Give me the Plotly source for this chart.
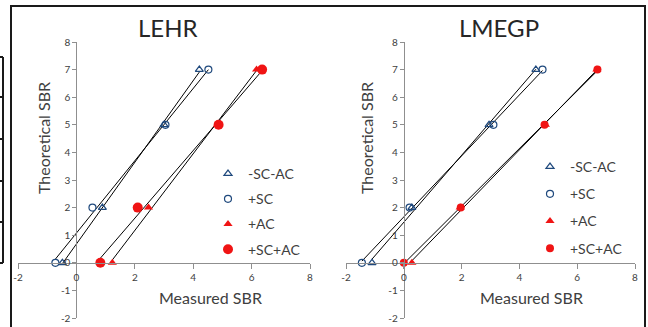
import numpy as np
import plotly.graph_objects as go

W, H = 648, 327

# ---------------- data ----------------
theoretical = [0, 2, 5, 7]
series_names = ["-SC-AC", "+SC", "+AC", "+SC+AC"]

lehr_scac = [-0.48, 0.89, 3.00, 4.21]
lehr_sc = [-0.72, 0.55, 3.05, 4.52]
lehr_ac = [1.23, 2.47, 4.83, 6.17]
lehr_sc_ac = [0.82, 2.10, 4.87, 6.36]

lmegp_scac = [-1.10, 0.28, 2.95, 4.57]
lmegp_sc = [-1.45, 0.20, 3.10, 4.80]
lmegp_ac = [0.28, 1.95, 4.90, 6.68]
lmegp_sc_ac = [0.00, 1.97, 4.87, 6.70]

x_ticks = [-2, 0, 2, 4, 6, 8]
y_ticks = [-2, -1, 0, 1, 2, 3, 4, 5, 6, 7, 8]
panel_titles = ["LEHR", "LMEGP"]
x_title = "Measured SBR"
y_title = "Theoretical SBR"

# ---------------- styles ----------------
BLUE = "#1F497D"
RED = "#F01414"
AXIS = "#8F8F8F"
TXT = "#404040"
FONT = "Lato"

styles = [
    dict(symbol="triangle-up-open", color=BLUE, size=7, line=dict(color=BLUE, width=1.2)),
    dict(symbol="circle-open", color=BLUE, size=7, line=dict(color=BLUE, width=1.2)),
    dict(symbol="triangle-up", color=RED, size=8, line=dict(color=RED, width=0)),
    dict(symbol="circle", color=RED, size=10, line=dict(color=RED, width=0)),
]
styles2 = [dict(s) for s in styles]
styles2[3] = dict(symbol="circle", color=RED, size=8, line=dict(color=RED, width=0))

def px_x(p):
    return p / W

def px_y(p):
    return 1 - p / H

xr = [-2, 8]
yr = [-2, 8]
ydom = [px_y(318), px_y(42)]
xdoms = [[px_x(18), px_x(310)], [px_x(346), px_x(635)]]

fig = go.Figure()

panels = [
    ([lehr_scac, lehr_sc, lehr_ac, lehr_sc_ac], styles, "x", "y", "legend"),
    ([lmegp_scac, lmegp_sc, lmegp_ac, lmegp_sc_ac], styles2, "x2", "y2", "legend2"),
]

for data, sty, xa, ya, lg in panels:
    # trendlines (least squares fit of theoretical on measured)
    for xs in data:
        m, b = np.polyfit(xs, theoretical, 1)
        xx = np.array([min(xs), max(xs)])
        fig.add_trace(go.Scatter(x=xx, y=m * xx + b, mode="lines",
                                 line=dict(color="black", width=1),
                                 showlegend=False, hoverinfo="skip",
                                 xaxis=xa, yaxis=ya))
    for i, xs in enumerate(data):
        fig.add_trace(go.Scatter(x=xs, y=theoretical, mode="markers",
                                 name=series_names[i], marker=sty[i],
                                 legend=lg, legendgroup=lg + str(i),
                                 cliponaxis=False, xaxis=xa, yaxis=ya))

xpos_axis = ydom[0] + (0 - yr[0]) / (yr[1] - yr[0]) * (ydom[1] - ydom[0])

def xaxis_cfg(dom):
    return dict(domain=dom, range=xr, anchor="free", position=xpos_axis,
                showline=True, linecolor=AXIS, linewidth=1,
                ticks="outside", ticklen=5, tickcolor=AXIS, tickwidth=1,
                tickvals=x_ticks, ticktext=[str(v) for v in x_ticks],
                showgrid=False, zeroline=False, automargin=False,
                tickfont=dict(family=FONT, size=10, color=TXT))

def yaxis_cfg(xdom):
    pos = xdom[0] + (0 - xr[0]) / (xr[1] - xr[0]) * (xdom[1] - xdom[0])
    return dict(domain=ydom, range=yr, anchor="free", position=pos,
                showline=True, linecolor=AXIS, linewidth=1,
                ticks="outside", ticklen=4, tickcolor=AXIS, tickwidth=1,
                tickvals=y_ticks, ticktext=[str(v) for v in y_ticks],
                showgrid=False, zeroline=False, automargin=False,
                tickfont=dict(family=FONT, size=10, color=TXT))

leg_common = dict(font=dict(family=FONT, size=14, color=TXT),
                  bgcolor="rgba(0,0,0,0)",
                  xanchor="left", yanchor="top", itemclick=False)

fig.update_layout(
    width=W, height=H,
    margin=dict(l=0, r=0, t=0, b=0, pad=0, autoexpand=False),
    paper_bgcolor="white", plot_bgcolor="rgba(0,0,0,0)",
    xaxis=xaxis_cfg(xdoms[0]), yaxis=yaxis_cfg(xdoms[0]),
    xaxis2=xaxis_cfg(xdoms[1]), yaxis2=yaxis_cfg(xdoms[1]),
    legend=dict(x=px_x(208), y=px_y(158), tracegroupgap=4, **leg_common),
    legend2=dict(x=px_x(530), y=px_y(151), tracegroupgap=6, **leg_common),
    showlegend=True,
)

# panel titles
for t, cx in zip(panel_titles, [168, 499]):
    fig.add_annotation(text=t, x=px_x(cx), y=px_y(28), xref="paper", yref="paper",
                       showarrow=False, xanchor="center", yanchor="middle",
                       font=dict(family=FONT, size=24, color="#262626"))
# axis titles
for cx in [210, 531]:
    fig.add_annotation(text=x_title, x=px_x(cx), y=px_y(297), xref="paper", yref="paper",
                       showarrow=False, xanchor="center", yanchor="middle",
                       font=dict(family=FONT, size=16, color=TXT))
for cx in [43, 366]:
    fig.add_annotation(text=y_title, x=px_x(cx), y=px_y(138), xref="paper", yref="paper",
                       showarrow=False, xanchor="center", yanchor="middle", textangle=-90,
                       font=dict(family=FONT, size=16, color=TXT))

# outer frame
frame = "#1A1A1A"
fig.add_shape(type="line", xref="paper", yref="paper", x0=px_x(11), x1=px_x(11),
              y0=px_y(5), y1=0, line=dict(color=frame, width=2))
fig.add_shape(type="line", xref="paper", yref="paper", x0=px_x(11), x1=px_x(645),
              y0=px_y(6), y1=px_y(6), line=dict(color=frame, width=2))
fig.add_shape(type="line", xref="paper", yref="paper", x0=px_x(645), x1=px_x(645),
              y0=px_y(5), y1=0, line=dict(color=frame, width=2))
# table fragment on the left
fig.add_shape(type="line", xref="paper", yref="paper", x0=px_x(3), x1=px_x(3),
              y0=px_y(57), y1=px_y(263), line=dict(color=frame, width=2))
for yy in [57, 97, 139, 181, 222, 263]:
    fig.add_shape(type="line", xref="paper", yref="paper", x0=0, x1=px_x(3),
                  y0=px_y(yy), y1=px_y(yy), line=dict(color=frame, width=2))

fig.write_html("out.html", config={"displayModeBar": False},
               post_script="document.body.style.margin='0px';")
